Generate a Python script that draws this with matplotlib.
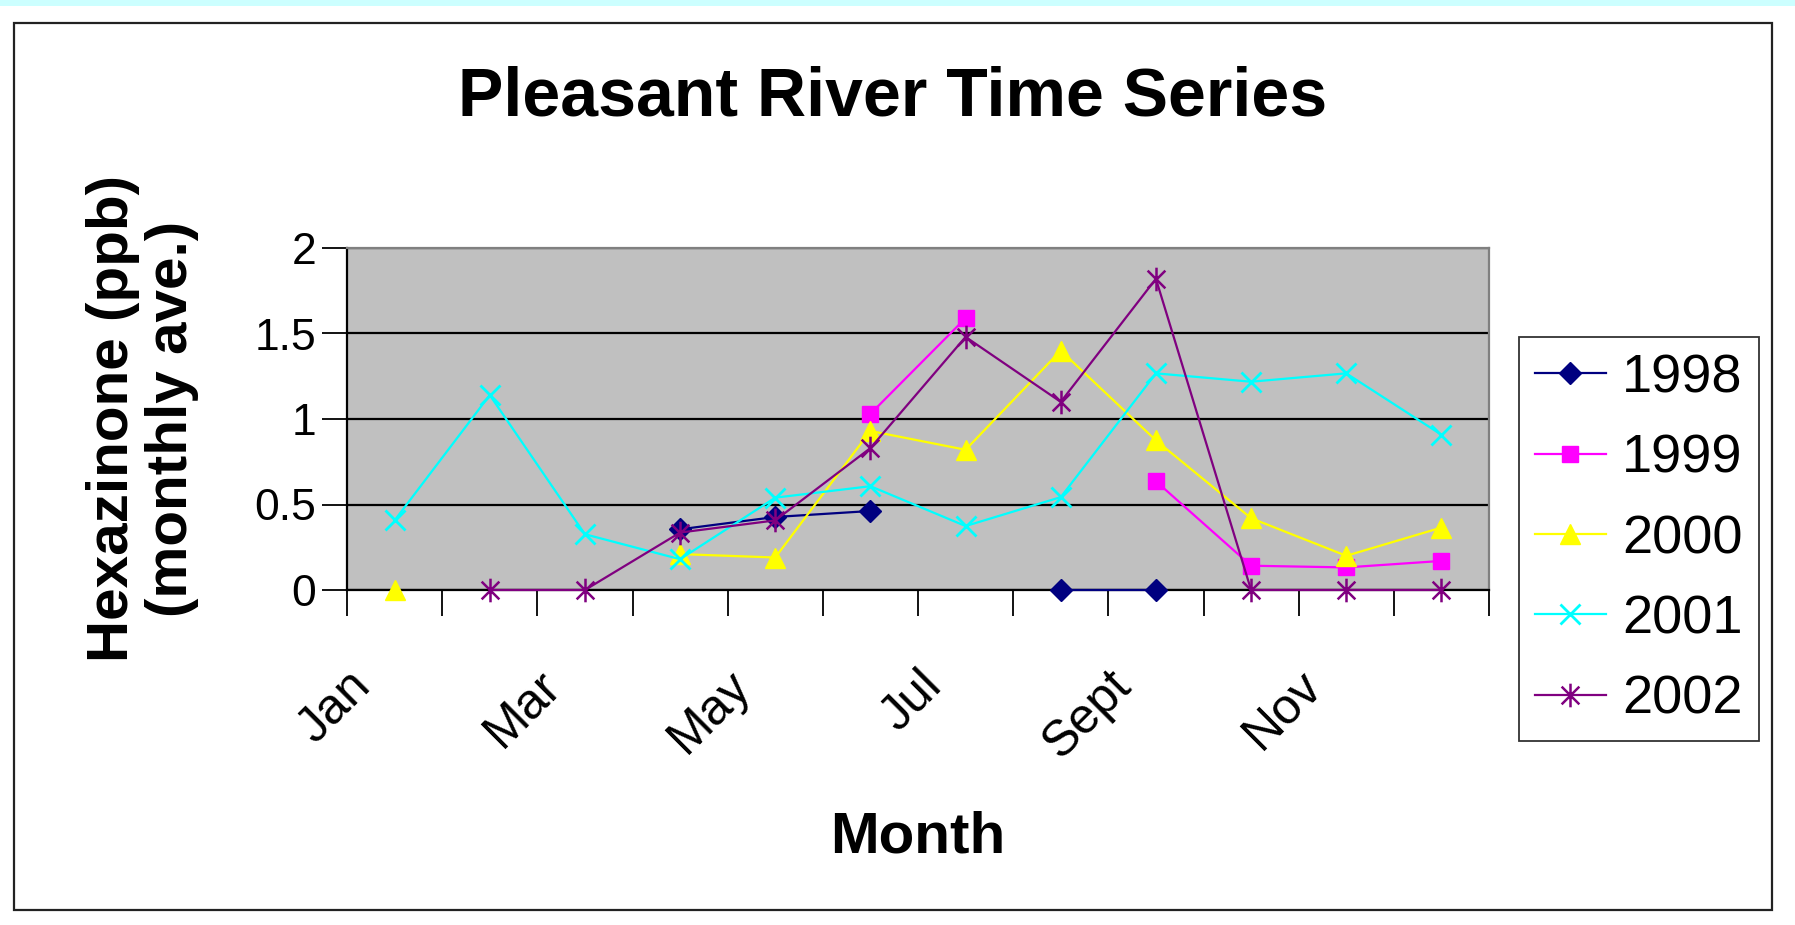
import numpy as np
import matplotlib
matplotlib.use("Agg")
import matplotlib.pyplot as plt
import matplotlib.transforms as mtransforms
from matplotlib.path import Path
from matplotlib.patches import Rectangle

nan = np.nan

months = ["Jan", "Feb", "Mar", "Apr", "May", "Jun",
          "Jul", "Aug", "Sept", "Oct", "Nov", "Dec"]
shown_labels = ["Jan", "Mar", "May", "Jul", "Sept", "Nov"]

y1998 = [nan, nan, nan, 0.355, 0.427, 0.462, nan, 0.0, 0.0, nan, nan, nan]
y1999 = [nan, nan, nan, nan, nan, 1.03, 1.59, nan, 0.636, 0.142, 0.132, 0.17]
y2000 = [0.0, nan, nan, 0.21, 0.19, 0.93, 0.82, 1.40, 0.875, 0.42, 0.20, 0.365]
y2001 = [0.407, 1.14, 0.326, 0.18, 0.54, 0.607, 0.374, 0.543, 1.267, 1.218, 1.267, 0.908]
y2002 = [nan, 0.0, 0.0, 0.336, 0.407, 0.83, 1.48, 1.10, 1.82, 0.0, 0.0, 0.0]

series_years = ["1998", "1999", "2000", "2001", "2002"]

plt.rcParams["font.family"] = ["Liberation Sans", "DejaVu Sans"]

# excel style asterisk: an x with a vertical bar through it
asterisk = Path(
    [(0, -1), (0, 1), (-0.75, -0.75), (0.75, 0.75), (-0.75, 0.75), (0.75, -0.75)],
    [Path.MOVETO, Path.LINETO, Path.MOVETO, Path.LINETO, Path.MOVETO, Path.LINETO],
)

styles = [
    dict(color="#000080", marker="D", ms=11),
    dict(color="#FF00FF", marker="s", ms=11),
    dict(color="#FFFF00", marker="^", ms=15),
    dict(color="#00FFFF", marker="x", ms=15, mew=2),
    dict(color="#800080", marker=asterisk, ms=17, mew=1.8, mfc="none"),
]

fig = plt.figure(figsize=(17.95, 9.25), dpi=100)
fig.patch.set_facecolor("white")

# light cyan strip on top and the chart border
fig.patches.append(Rectangle((0, 1 - 6 / 925), 1, 6 / 925, transform=fig.transFigure,
                             facecolor="#CCFFFF", edgecolor="none"))
fig.patches.append(Rectangle((14 / 1795, 1 - 910 / 925), (1772 - 14) / 1795, (910 - 23) / 925,
                             transform=fig.transFigure, facecolor="none",
                             edgecolor="#222222", linewidth=1.6))

ax = fig.add_axes([347 / 1795, 1 - 590 / 925, (1489 - 347) / 1795, (590 - 248) / 925])
ax.set_facecolor("#C0C0C0")

x = np.arange(len(months))
for yr, vals, st in zip(series_years, [y1998, y1999, y2000, y2001, y2002], styles):
    ax.plot(x, vals, linewidth=1.6, label=yr, clip_on=False, zorder=3, **st)

ax.set_xlim(-0.5, len(months) - 0.5)
ax.set_ylim(0, 2)
ax.set_yticks([0, 0.5, 1, 1.5, 2])
ax.set_yticklabels(["0", "0.5", "1", "1.5", "2"])
ax.yaxis.grid(True, color="black", linewidth=1.6)
ax.set_axisbelow(True)

# ticks sit between categories, labels on every other month
ax.set_xticks(np.arange(-0.5, len(months), 1.0))
ax.set_xticklabels([])
ax.set_xticks([months.index(m) for m in shown_labels], minor=True)
ax.set_xticklabels(shown_labels, minor=True, rotation=45, ha="right", va="top",
                   rotation_mode="anchor", fontsize=36)
ax.tick_params(axis="x", which="minor", length=0, pad=52)
ax.tick_params(axis="x", which="major", length=19, width=1.3, direction="out")
ax.tick_params(axis="y", length=18, width=1.3, direction="out", labelsize=32, pad=4)
shift = mtransforms.ScaledTranslation(-48 / 100, 0, fig.dpi_scale_trans)
for lab in ax.xaxis.get_minorticklabels():
    lab.set_transform(lab.get_transform() + shift)

for side in ("top", "right"):
    ax.spines[side].set_color("#808080")
    ax.spines[side].set_linewidth(1.6)
for side in ("left", "bottom"):
    ax.spines[side].set_color("black")
    ax.spines[side].set_linewidth(1.6)

ax.set_xlabel("Month", fontsize=42, fontweight="bold")
ax.xaxis.set_label_coords(0.5, -0.645)
ax.set_ylabel("Hexazinone (ppb)\n(monthly ave.)", fontsize=42, fontweight="bold",
              linespacing=1.1)
ax.yaxis.set_label_coords(-0.13, 0.5)

fig.text(893 / 1795, 1 - 97 / 925, "Pleasant River Time Series", ha="center",
         va="center", fontsize=49, fontweight="bold")

leg = ax.legend(loc="center left", bbox_to_anchor=(1519 / 1795, 1 - 539 / 925),
                bbox_transform=fig.transFigure, fontsize=39, frameon=True,
                fancybox=False, shadow=False, handlelength=1.3, handletextpad=0.3,
                labelspacing=0.56, borderpad=0.3, borderaxespad=0, numpoints=1)
leg.get_frame().set_edgecolor("black")
leg.get_frame().set_linewidth(1.3)

fig.savefig("out.png", dpi=100, facecolor="white")
